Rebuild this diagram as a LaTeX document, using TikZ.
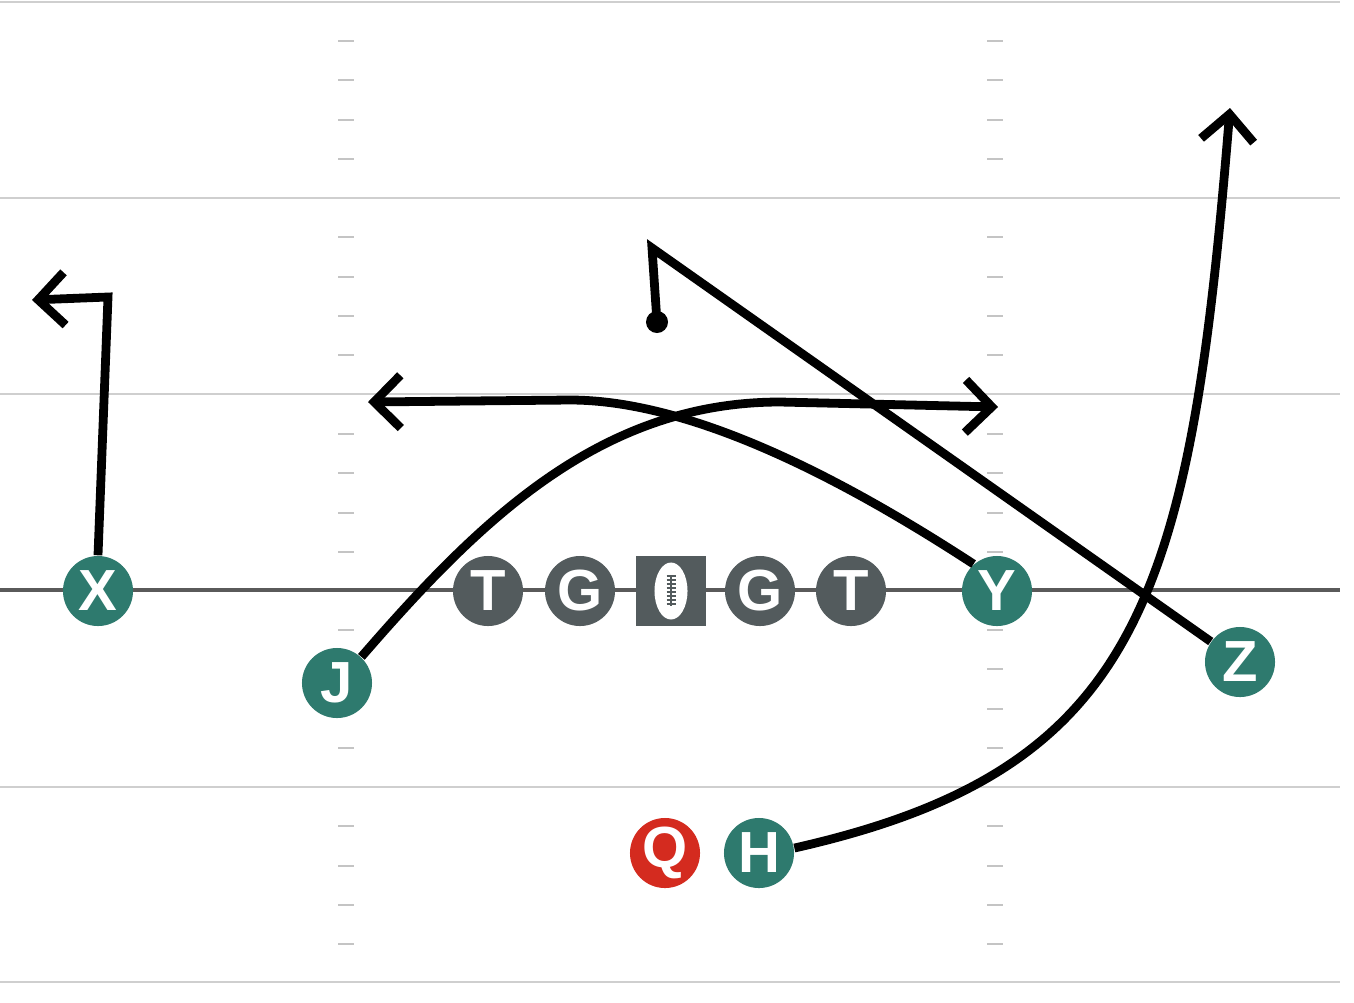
\documentclass[tikz,border=0pt]{standalone}
\usepackage{fontspec}
\setsansfont{Liberation Sans}
\usetikzlibrary{arrows.meta}
\definecolor{playteal}{HTML}{2E7A6E}
\definecolor{linegray}{HTML}{535B5D}
\definecolor{qred}{HTML}{D42B1F}
\definecolor{fieldgray}{HTML}{CFCFCF}
\definecolor{hashgray}{HTML}{C4C4C4}
\definecolor{losgray}{HTML}{5A5A5A}
\begin{document}
\begin{tikzpicture}[x=0.01cm,y=-0.01cm,
  player/.style={circle,fill=playteal,minimum size=0.7cm,inner sep=0pt,text=white,
    font=\sffamily\bfseries\fontsize{16.5}{16.5}\selectfont},
  lineman/.style={player,fill=linegray},
  qb/.style={player,fill=qred},
  route/.style={line width=2.5pt,black,line join=miter},
  tip/.style={-{Straight Barb[length=7.5pt,width=15pt]}},
  yardline/.style={line width=0.6pt,fieldgray},
  hash/.style={line width=0.6pt,hashgray},
  lace/.style={linegray,line width=0.4pt}
]
\useasboundingbox (0,0) rectangle (1354,1002);
\fill[white] (0,0) rectangle (1354,1002);
% field lines
\foreach \y in {2,198,394,787,982} \draw[yardline] (0,\y) -- (1340,\y);
\foreach \y in {41,80,120,159,237,277,316,355,434,473,513,552,630,669,709,748,826,866,905,944}{
  \draw[hash] (338,\y) -- (354,\y);
  \draw[hash] (987,\y) -- (1003,\y);
}
\draw[line width=1.2pt,losgray] (0,590) -- (1340,590);
% players
\node[player] (X) at (98,591) {X};
\node[player] (J) at (337,683) {J};
\node[lineman] (LT) at (488,591) {T};
\node[lineman] (LG) at (580,591) {G};
\node[rectangle,fill=linegray,minimum size=0.7cm,inner sep=0pt] (C) at (671,591) {};
\node[lineman] (RG) at (760,591) {G};
\node[lineman] (RT) at (851,591) {T};
\node[player] (Y) at (997,591) {Y};
\node[player] (Z) at (1240,662) {Z};
\node[qb] (Q) at (665,853) {Q};
\node[player] (H) at (759,853) {H};
% football
\fill[white] (C.center) ellipse [x radius=0.165cm, y radius=0.285cm];
\draw[lace] (671,575) -- (671,606);
\foreach \t in {576,580,...,606}{\draw[lace] (666.5,\t) -- (675.5,\t);}
% route end points
\coordinate (xa) at (108,297);
\coordinate (xe) at (32,300);
\coordinate (ya) at (570,400);
\coordinate (ye) at (368,402);
\coordinate (ja) at (780,402);
\coordinate (je) at (998,407);
\coordinate (za) at (652,248);
\coordinate (ze) at (657,322);
\coordinate (he) at (1230,108);
% routes
\draw[route,tip] (X.north) -- (xa) -- (xe);
\draw[route,tip] (Y.131) .. controls (860,490) and (700,400) .. (ya) -- (ye);
\draw[route,tip] (J.47) .. controls (480,520) and (600,402) .. (ja) -- (je);
\draw[route] (Z.145) -- (za) -- (ze);
\fill (ze) circle [radius=0.11cm];
\draw[route,tip] (H.8) .. controls (1140,770) and (1190,600) .. (he);
\end{tikzpicture}
\end{document}
